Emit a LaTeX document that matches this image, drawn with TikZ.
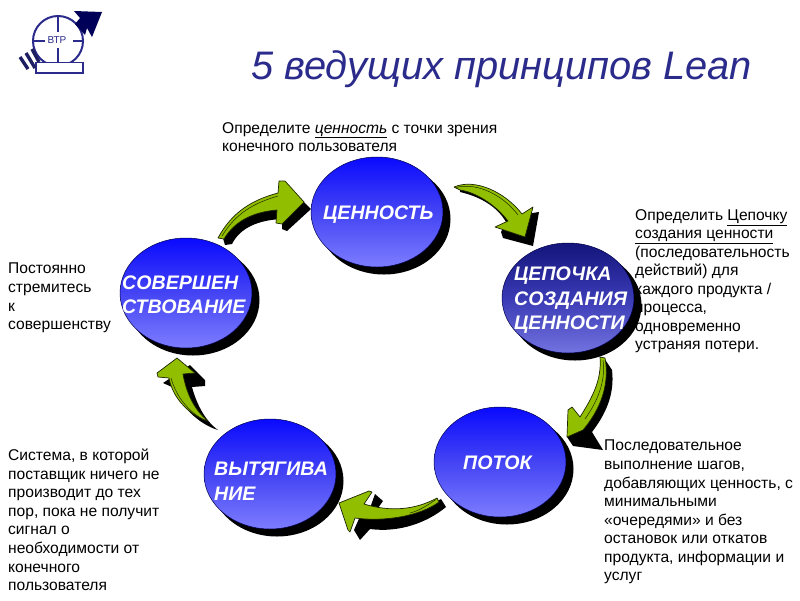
\documentclass[tikz,border=0pt]{standalone}
\usepackage{fontspec}
\setmainfont{Liberation Sans}
\definecolor{navy}{HTML}{2B2B8C}
\definecolor{leaf}{HTML}{92BE00}
\definecolor{bubtop}{HTML}{0A0AFF}
\definecolor{bubmid}{HTML}{4444F4}
\definecolor{bubbot}{HTML}{7C7CFF}
\definecolor{darktop}{HTML}{14147C}
\definecolor{darkmid}{HTML}{3A3AB4}
\definecolor{darkbot}{HTML}{7272E0}
\tikzset{
  x=1pt,y=-1pt,
  body/.style={anchor=north west,inner sep=0pt,align=left,font=\fontsize{15.6}{18.55}\selectfont,text=black},
  disc/.style={font=\fontsize{19.6}{24.5}\selectfont\bfseries\itshape,text=white,anchor=west,inner sep=0pt,align=left},
  leafarrow/.style={fill=leaf,draw=black!80!leaf,line width=0.7pt,line join=round},
  foldline/.style={draw=black!80!leaf,line width=0.5pt},
  tick/.style={draw=navy,line width=2pt},
}
\newcommand{\bubble}[5]{%
  \fill[black] (#1+7,#2+7) ellipse [x radius=66.5,y radius=55.5];
  \path[draw=black!70!blue,line width=0.5pt,top color=#3,bottom color=#5,middle color=#4]
    (#1,#2) ellipse [x radius=66,y radius=55];
}
\begin{document}
\begin{tikzpicture}
\useasboundingbox (0,0) rectangle (800,600);
\clip (0,0) rectangle (800,600);
\fill[white] (0,0) rectangle (800,600);

% logo
\draw[tick,fill=white] (58,41) circle [radius=25];
\draw[tick] (58,17)--(58,32) (58,48)--(58,63) (33,41)--(45,41) (73,41)--(84,41);
\node[inner sep=0pt,text=navy,font=\fontsize{10}{10}\selectfont] (logotext) at (57,40.5) {ВТР};
\draw[draw=navy,fill=white,line width=1.2pt] (36,62.5) rectangle (83,73);
\draw[navy!70!black,line width=3.4pt] (20,57)--(28,69) (26,53)--(35,68) (32,49)--(39,62);
\fill[blue!35!black] (74,11)--(102,12)--(92,37)--(87,28)--(85,35)--(75,24)--(80,18)--cycle;

% title
\node[anchor=base west,inner sep=0pt,text=navy,font=\fontsize{39.8}{44}\selectfont\itshape] (title) at (251,79) {5 ведущих принципов Lean};

% texts (ellipses and arrows lie over them)
\node[body] (t1) at (222,122) {Определите \underline{\itshape ценность} с точки зрения\\конечного пользователя};
\node[body] (t2) at (635,209) {Определить \underline{Цепочку}\\\underline{создания ценности}\\(последовательность\\действий) для\\каждого продукта /\\процесса,\\одновременно\\устраняя потери.};
\node[body] (t3) at (8,263) {Постоянно\\стремитесь\\к\\совершенству};
\node[body] (t4) at (8,449) {Система, в которой\\поставщик ничего не\\производит до тех\\пор, пока не получит\\сигнал о\\необходимости от\\конечного\\пользователя};
\node[body] (t5) at (604,440) {Последовательное\\выполнение шагов,\\добавляющих ценность, с\\минимальными\\«очередями» и без\\остановок или откатов\\продукта, информации и\\услуг};

% bubbles
\bubble{377}{212}{bubtop}{bubmid}{bubbot}
\bubble{568}{298}{darktop}{darkmid}{darkbot}
\bubble{500}{462}{bubtop}{bubmid}{bubbot}
\bubble{270}{474}{bubtop}{bubmid}{bubbot}
\bubble{186}{293}{bubtop}{bubmid}{bubbot}
\node[disc] (n1) at (323,215) {ЦЕННОСТЬ};
\node[disc] (n2) at (514,300.5) {ЦЕПОЧКА\\СОЗДАНИЯ\\ЦЕННОСТИ};
\node[disc] (n3) at (463,463) {ПОТОК};
\node[disc] (n4) at (214,481) {ВЫТЯГИВА\\НИЕ};
\node[disc] (n5) at (122,294.5) {СОВЕРШЕН\\СТВОВАНИЕ};

% arrow: perfection -> value
\fill[black] (222,235) .. controls (240,212) and (260,205) .. (278,200) -- (287,185) -- (311,209) -- (287,231) -- (282,229) -- (282,219) .. controls (258,220) and (240,228) .. (232,244) -- (225,245) -- cycle;
\path[leafarrow] (218,238) .. controls (232,212) and (252,200) .. (278,193) -- (279,181) -- (285,181) -- (304,202) -- (282,224) -- (276,223) -- (277,210) .. controls (252,212) and (234,222) .. (224,239) -- cycle;
\draw[foldline] (222,236) .. controls (236,213) and (254,203) .. (278,196);

% arrow: value -> chain
\fill[black] (460,192) .. controls (482,197) and (498,208) .. (506,222) -- (501,232) -- (503,238) -- (533,246) -- (539,212) -- (520,215) .. controls (505,195) and (480,185) .. (460,188) -- cycle;
\path[leafarrow] (454,187) .. controls (475,178) and (505,192) .. (522,214) -- (533,207) -- (525,237) -- (495,227) -- (508,221) .. controls (495,204) and (475,192) .. (460,190) -- cycle;
\draw[foldline] (456,187.5) .. controls (477,182) and (503,195) .. (518,215);

% arrow: chain -> flow
\fill[black] (604,358) -- (612,370) .. controls (615,395) and (605,415) .. (592,432) -- (603,450) -- (573,446) -- (567,437) -- (590,420) -- cycle;
\path[leafarrow] (600,357) -- (605,358) .. controls (610,385) and (600,410) .. (583,430) -- (567,437) -- (568,410) -- (572,407) -- (580,417) .. controls (592,398) and (602,380) .. (600,357) -- cycle;
\draw[foldline] (603,360) .. controls (606,382) and (597,402) .. (585,419);

% arrow: flow -> pull
\fill[black] (375,494) -- (383,501) -- (378,508) -- (370,508) -- cycle;
\fill[black] (446,507) -- (441,499) .. controls (420,510) and (395,517) .. (362,512) -- (354,530) -- (360,540) -- (370,529) .. controls (400,533) and (428,522) .. (446,507) -- cycle;
\path[leafarrow] (339,503) -- (369,491) -- (372,492) -- (364,504) .. controls (390,512) and (415,510) .. (437,498) -- (439,502) .. controls (420,516) and (385,522) .. (355,518) -- (350,532) -- (348,530) -- cycle;
\draw[foldline] (436,499.5) .. controls (425,507) and (418,511) .. (410,513);

% arrow: pull -> perfection
\fill[black] (163,383) -- (190,365) -- (205,380) -- (205,386) -- (192,387) .. controls (196,402) and (204,420) .. (218,430) .. controls (198,424) and (180,405) .. (172,387) -- cycle;
\path[leafarrow] (177,358) -- (195,373) -- (183,374) .. controls (186,392) and (194,410) .. (208,421) -- (205,420) .. controls (185,412) and (172,395) .. (169,378) -- (158,377) -- (157,373) -- cycle;
\draw[foldline] (171,378) .. controls (176,396) and (188,412) .. (206,421);
\end{tikzpicture}
\end{document}
